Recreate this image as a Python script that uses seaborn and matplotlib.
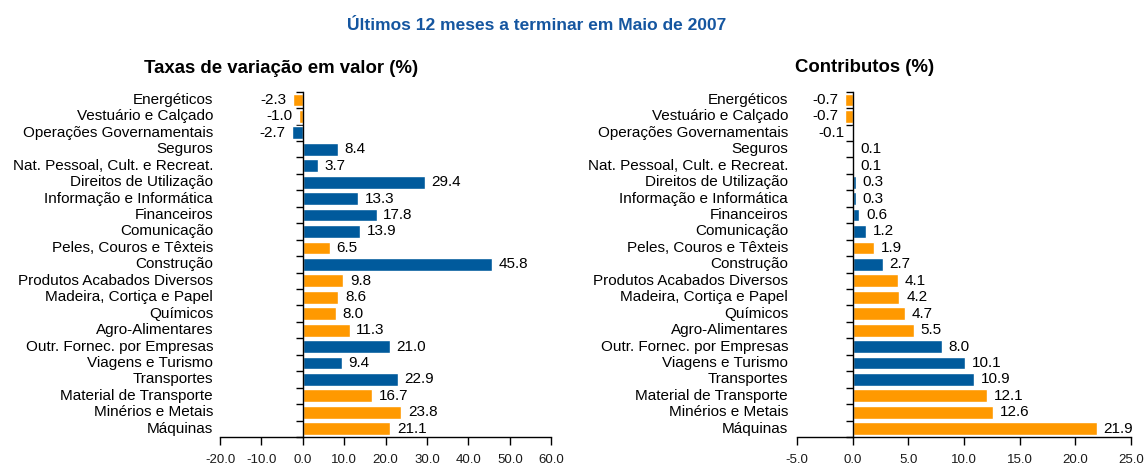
import numpy as np
import pandas as pd
import matplotlib
matplotlib.use("Agg")
import matplotlib.pyplot as plt
import seaborn as sns

categories = ["Energéticos", "Vestuário e Calçado", "Operações Governamentais", "Seguros",
              "Nat. Pessoal, Cult. e Recreat.", "Direitos de Utilização", "Informação e Informática",
              "Financeiros", "Comunicação", "Peles, Couros e Têxteis", "Construção",
              "Produtos Acabados Diversos", "Madeira, Cortiça e Papel", "Químicos",
              "Agro-Alimentares", "Outr. Fornec. por Empresas", "Viagens e Turismo",
              "Transportes", "Material de Transporte", "Minérios e Metais", "Máquinas"]
kind = ["Bens", "Bens", "Serviços", "Serviços", "Serviços", "Serviços", "Serviços",
        "Serviços", "Serviços", "Bens", "Serviços", "Bens", "Bens", "Bens", "Bens",
        "Serviços", "Serviços", "Serviços", "Bens", "Bens", "Bens"]
taxas = [-2.3, -1.0, -2.7, 8.4, 3.7, 29.4, 13.3, 17.8, 13.9, 6.5, 45.8, 9.8, 8.6, 8.0,
         11.3, 21.0, 9.4, 22.9, 16.7, 23.8, 21.1]
contributos = [-0.7, -0.7, -0.1, 0.1, 0.1, 0.3, 0.3, 0.6, 1.2, 1.9, 2.7, 4.1, 4.2, 4.7,
               5.5, 8.0, 10.1, 10.9, 12.1, 12.6, 21.9]
xticks_left = [-20, -10, 0, 10, 20, 30, 40, 50, 60]
xticks_right = [-5, 0, 5, 10, 15, 20, 25]

title = "Últimos 12 meses a terminar em Maio de 2007"
sub_left = "Taxas de variação em valor (%)"
sub_right = "Contributos (%)"

palette = {"Bens": "#FF9900", "Serviços": "#005A9C"}

sns.set_theme(style="white")
plt.rcParams["font.family"] = ["Liberation Sans", "DejaVu Sans"]
plt.rcParams["text.color"] = "black"
plt.rcParams["xtick.color"] = "black"
plt.rcParams["ytick.color"] = "black"

df = pd.DataFrame({"cat": categories, "kind": kind, "taxas": taxas, "contrib": contributos})

fig = plt.figure(figsize=(11.46, 4.66), dpi=100)
ax1 = fig.add_axes([0.192, 0.0622, 0.289, 0.741])
ax2 = fig.add_axes([0.6955, 0.0622, 0.2915, 0.741])


def draw(ax, col, ticks, pad, lab_off):
    sns.barplot(data=df, x=col, y="cat", hue="kind", palette=palette, dodge=False,
                orient="h", width=0.78, legend=False, ax=ax, saturation=1)
    ax.set_xlim(ticks[0], ticks[-1])
    ax.set_ylim(len(categories) - 0.5, -0.5)
    ax.set_xticks(ticks)
    ax.set_xticklabels([f"{t:.1f}" for t in ticks], fontsize=9.5, color="#1a1a1a")
    ax.set_xlabel("")
    ax.set_ylabel("")
    for s in ["top", "right"]:
        ax.spines[s].set_visible(False)
    ax.spines["left"].set_position(("data", 0))
    for s in ["left", "bottom"]:
        ax.spines[s].set_color("black")
        ax.spines[s].set_linewidth(1.0)
    ax.set_yticks(range(len(categories)))
    ax.set_yticklabels([])
    ax.tick_params(axis="y", which="major", length=0)
    ax.set_yticks(np.arange(-0.5, len(categories), 1), minor=True)
    ax.tick_params(axis="y", which="minor", length=5, width=1, color="black", direction="out", left=True)
    ax.tick_params(axis="x", length=6, width=1, color="black", direction="out", bottom=True, pad=6)
    for i, (c, v) in enumerate(zip(categories, df[col])):
        ax.annotate(c, xy=(0, i), xycoords=("axes fraction", "data"), xytext=(-lab_off, 0),
                    textcoords="offset pixels", ha="right", va="center", fontsize=11, color="black")
        if v >= 0:
            ax.text(v + pad, i, f"{v:.1f}", ha="left", va="center", fontsize=11, color="black")
        else:
            ax.text(v - pad, i, f"{v:.1f}", ha="right", va="center", fontsize=11, color="black")


draw(ax1, "taxas", xticks_left, 1.6, 7)
draw(ax2, "contrib", xticks_right, 0.6, 9)

fig.text(0.468, 0.946, title, ha="center", va="center", fontsize=12.5, fontweight="bold", color="#1556A0")
fig.text(0.245, 0.854, sub_left, ha="center", va="center", fontsize=13.4, fontweight="bold", color="black")
fig.text(0.754, 0.855, sub_right, ha="center", va="center", fontsize=13.4, fontweight="bold", color="black")

fig.savefig("out.png", dpi=100)
